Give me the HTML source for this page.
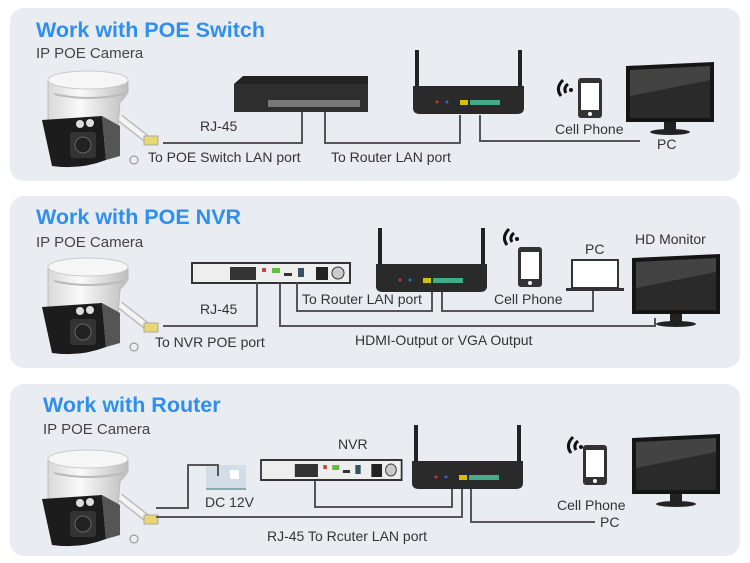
<!DOCTYPE html>
<html><head><meta charset="utf-8"><style>
html,body{margin:0;padding:0;background:#fff;}
svg{display:block;font-family:"Liberation Sans",Arial,sans-serif;}
.t{fill:#2f8ff0;font-weight:bold;font-size:21.5px}
.s{fill:#444;font-size:15px}
.l{fill:#333;font-size:14px}
.w{fill:none;stroke:#555;stroke-width:2}
</style></head><body>
<svg width="750" height="563" viewBox="0 0 750 563" xmlns="http://www.w3.org/2000/svg">
<defs>
<linearGradient id="gb" x1="0" x2="1" y1="0" y2="0">
 <stop offset="0" stop-color="#d8d8d8"/><stop offset=".4" stop-color="#fafafa"/><stop offset="1" stop-color="#bdbdbd"/>
</linearGradient>
<g id="cam">
 <path d="M8,14 Q8,4 46,3 Q88,4 88,14 L88,24 Q85,30 80,34 L78,60 Q70,75 60,80 L30,80 Q10,70 8,50 Z" fill="url(#gb)" stroke="#bbb"/>
 <ellipse cx="48" cy="12" rx="40" ry="9" fill="#f6f6f6" stroke="#ccc"/>
 <path d="M14,26 Q48,34 84,26" fill="none" stroke="#bbb" stroke-width="2"/>
 <path d="M2,52 L62,48 L66,92 Q40,102 12,98 Z" fill="#1c1c1c"/>
 <path d="M62,48 L80,58 L80,88 L66,92 Z" fill="#555"/>
 <rect x="30" y="64" width="26" height="26" rx="3" fill="#333"/>
 <circle cx="43" cy="77" r="8" fill="#222" stroke="#666"/>
 <circle cx="40" cy="56" r="4" fill="#ddd"/><circle cx="50" cy="55" r="4" fill="#ddd"/>
 <path d="M80,50 L108,72" stroke="#bbb" stroke-width="8"/>
 <path d="M80,50 L108,72" stroke="#f4f4f4" stroke-width="5"/>
 <rect x="104" y="68" width="14" height="9" fill="#e8d870" stroke="#aaa"/>
 <circle cx="94" cy="92" r="4" fill="#eee" stroke="#888"/>
</g>
<g id="rt">
 <rect x="0" y="0" width="4" height="48" fill="#222"/>
 <rect x="103" y="0" width="4" height="48" fill="#222"/>
 <path d="M-2,36 L109,36 L109,58 Q109,64 102,64 L5,64 Q-2,64 -2,58 Z" fill="#2a2a2a"/>
 <rect x="45" y="50" width="8" height="5" fill="#d4c000"/>
 <rect x="55" y="50" width="30" height="5" fill="#4a8"/>
 <circle cx="22" cy="52" r="1.5" fill="#c33"/><circle cx="32" cy="52" r="1.5" fill="#36c"/>
</g>
<g id="ph">
 <rect x="0" y="0" width="24" height="40" rx="3" fill="#333"/>
 <rect x="3" y="5" width="18" height="27" fill="#fff"/>
 <circle cx="12" cy="36" r="2" fill="#fff"/>
</g>
<g id="wf" fill="none" stroke="#111" stroke-width="3">
 <path d="M10,4 Q2,12 8,20"/><path d="M15,8 Q10,12 13,17"/><circle cx="18" cy="14" r="2" fill="#111" stroke="none"/>
</g>
<g id="mon">
 <path d="M0,0 L88,-4 L88,56 L0,56 Z" fill="#151515"/>
 <path d="M4,4 L84,0 L84,52 L4,52 Z" fill="#2a2a2a"/>
 <path d="M4,4 L84,0 L84,14 L4,30 Z" fill="#555" opacity=".6"/>
 <rect x="38" y="56" width="12" height="8" fill="#222"/>
 <ellipse cx="44" cy="66" rx="20" ry="3" fill="#222"/>
</g>
<g id="nvr">
 <rect x="0" y="0" width="158" height="20" fill="#eee" stroke="#333" stroke-width="2"/>
 <rect x="38" y="4" width="26" height="13" fill="#333"/>
 <rect x="70" y="5" width="4" height="4" fill="#c44"/>
 <rect x="80" y="5" width="8" height="5" fill="#6b4"/>
 <rect x="92" y="10" width="8" height="3" fill="#333"/>
 <rect x="106" y="5" width="6" height="9" fill="#356"/>
 <rect x="124" y="4" width="12" height="13" fill="#222"/>
 <circle cx="146" cy="10" r="6" fill="#ccc" stroke="#333"/>
</g>
</defs>

<!-- Panel 1 -->
<rect x="10" y="8" width="730" height="173" rx="14" fill="#e9edf2"/>
<text class="t" x="36" y="37">Work with POE Switch</text>
<text class="s" x="36" y="58">IP POE Camera</text>
<use href="#cam" x="40" y="68"/>
<path d="M234,84 L243,76 L368,76 L368,112 L234,112 Z" fill="#222"/>
<rect x="234" y="84" width="134" height="28" fill="#2e2e2e"/>
<rect x="268" y="100" width="92" height="7" fill="#777"/>
<path class="w" d="M163,143 L302,143 L302,112"/>
<path class="w" d="M325,112 L325,143 L460,143 L460,115"/>
<path class="w" d="M480,115 L480,141 L640,141"/>
<use href="#rt" x="415" y="50"/>
<use href="#wf" x="553" y="76"/>
<use href="#ph" x="578" y="78"/>
<use href="#mon" x="626" y="66"/>
<text class="l" x="200" y="131">RJ-45</text>
<text class="l" x="148" y="162">To POE Switch LAN port</text>
<text class="l" x="331" y="162">To Router LAN port</text>
<text class="l" x="555" y="134">Cell Phone</text>
<text class="l" x="657" y="149">PC</text>

<!-- Panel 2 -->
<rect x="10" y="196" width="730" height="172" rx="14" fill="#e9edf2"/>
<text class="t" x="36" y="224">Work with POE NVR</text>
<text class="s" x="36" y="247">IP POE Camera</text>
<use href="#cam" x="40" y="255"/>
<use href="#nvr" x="192" y="263"/>
<path class="w" d="M163,326 L257,326 L257,283"/>
<path class="w" d="M280,283 L280,326 L655,326 L655,318"/>
<path class="w" d="M297,283 L297,311 L432,311 L432,292"/>
<path class="w" d="M442,292 L442,311 L593,311 L593,290"/>
<use href="#rt" x="378" y="228"/>
<use href="#wf" x="499" y="225"/>
<use href="#ph" x="518" y="247"/>
<rect x="572" y="260" width="46" height="28" fill="#fff" stroke="#333" stroke-width="2"/>
<rect x="566" y="288" width="58" height="3" fill="#333"/>
<use href="#mon" x="632" y="258"/>
<text class="l" x="200" y="314">RJ-45</text>
<text class="l" x="155" y="347">To NVR POE port</text>
<text class="l" x="302" y="304">To Router LAN port</text>
<text class="l" x="494" y="304">Cell Phone</text>
<text class="l" x="585" y="254">PC</text>
<text class="l" x="635" y="244">HD Monitor</text>
<text class="l" x="355" y="345">HDMI-Output or VGA Output</text>

<!-- Panel 3 -->
<rect x="10" y="384" width="730" height="172" rx="14" fill="#e9edf2"/>
<text class="t" x="43" y="412">Work with Router</text>
<text class="s" x="43" y="434">IP POE Camera</text>
<use href="#cam" x="40" y="447"/>
<rect x="206" y="465" width="40" height="23" fill="#d3dde8"/>
<rect x="206" y="488" width="40" height="2" fill="#8aa"/>
<rect x="230" y="470" width="9" height="9" fill="#fff"/>
<path class="w" d="M156,508 L188,508 L188,465 L218,465 L218,476"/>
<path class="w" d="M156,517 L462,517 L462,485"/>
<path class="w" d="M315,480 L315,507 L452,507 L452,485"/>
<path class="w" d="M471,485 L471,522 L595,522"/>
<g transform="translate(261,460) scale(0.89,1)"><use href="#nvr"/></g>
<use href="#rt" x="414" y="425"/>
<use href="#wf" x="563" y="433"/>
<use href="#ph" x="583" y="445"/>
<use href="#mon" x="632" y="438"/>
<text class="l" x="338" y="449">NVR</text>
<text class="l" x="205" y="507">DC 12V</text>
<text class="l" x="557" y="510">Cell Phone</text>
<text class="l" x="600" y="527">PC</text>
<text class="l" x="267" y="541">RJ-45 To Rcuter LAN port</text>
</svg>
</body></html>
